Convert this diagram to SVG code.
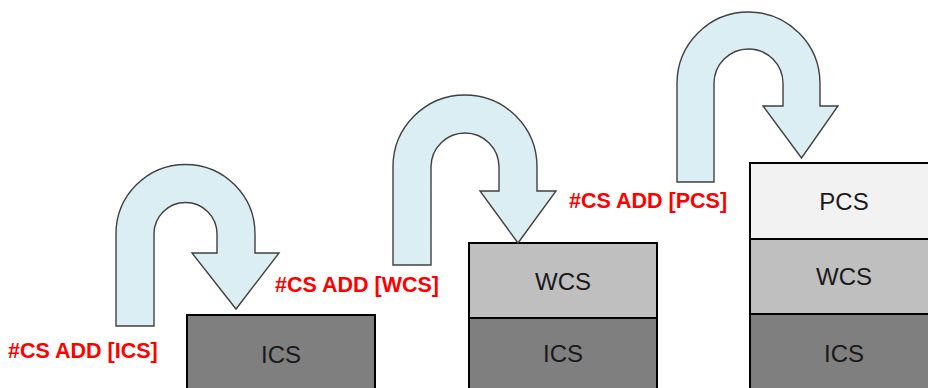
<svg xmlns="http://www.w3.org/2000/svg" width="928" height="388" viewBox="0 0 928 388">
<style>
.box{stroke:#000;stroke-width:2}
.ics{fill:#7f7f7f}
.wcs{fill:#bfbfbf}
.pcs{fill:#f2f2f2}
.bt{font-family:"Liberation Sans",Arial,sans-serif;font-size:24px;fill:#1a1a1a;text-anchor:middle}
.arrow{fill:#dbeef4;stroke:#404040;stroke-width:1.4;stroke-linejoin:miter}
.lbl{font-family:"Liberation Sans",Arial,sans-serif;font-size:21.5px;font-weight:bold;fill:#ff0000}
</style>
<rect width="928" height="388" fill="#fff"/>
<g id="stack1">
<g id="s1-ics"><rect class="box ics" x="187" y="315" width="188" height="80"/><text class="bt" x="281" y="363">ICS</text></g>
</g>
<g id="stack2">
<g id="s2-wcs"><rect class="box wcs" x="469" y="243" width="188" height="75"/><text class="bt" x="563" y="290">WCS</text></g>
<g id="s2-ics"><rect class="box ics" x="469" y="318" width="188" height="77"/><text class="bt" x="563" y="362">ICS</text></g>
</g>
<g id="stack3">
<g id="s3-pcs"><rect class="box pcs" x="750" y="163" width="188" height="76"/><text class="bt" x="844" y="210">PCS</text></g>
<g id="s3-wcs"><rect class="box wcs" x="750" y="239" width="188" height="75"/><text class="bt" x="844" y="285">WCS</text></g>
<g id="s3-ics"><rect class="box ics" x="750" y="314" width="188" height="81"/><text class="bt" x="844" y="362">ICS</text></g>
</g>
<g id="connectors">
<path class="arrow" d="M116,326 L116,234 A69.5,69.5 0 0 1 255,234 L255,253 L279,253 L236,309 L192,253 L217,253 L217,234 A31.5,31.5 0 0 0 154,234 L154,326 Z"/>
<path class="arrow" d="M393,265 L393,167 A72,72 0 0 1 537,167 L537,191 L556,191 L518,243 L480,191 L499,191 L499,167 A34,34 0 0 0 431,167 L431,265 Z"/>
<path class="arrow" d="M677,182 L677,83.5 A71.5,71.5 0 0 1 820,83.5 L820,106 L838,106 L801.5,158 L763,106 L783,106 L783,83.5 A34.5,34.5 0 0 0 714,83.5 L714,182 Z"/>
<text class="lbl" x="8" y="358">#CS ADD [ICS]</text>
<text class="lbl" x="275" y="292">#CS ADD [WCS]</text>
<text class="lbl" x="569" y="208">#CS ADD [PCS]</text>
</g>
</svg>
